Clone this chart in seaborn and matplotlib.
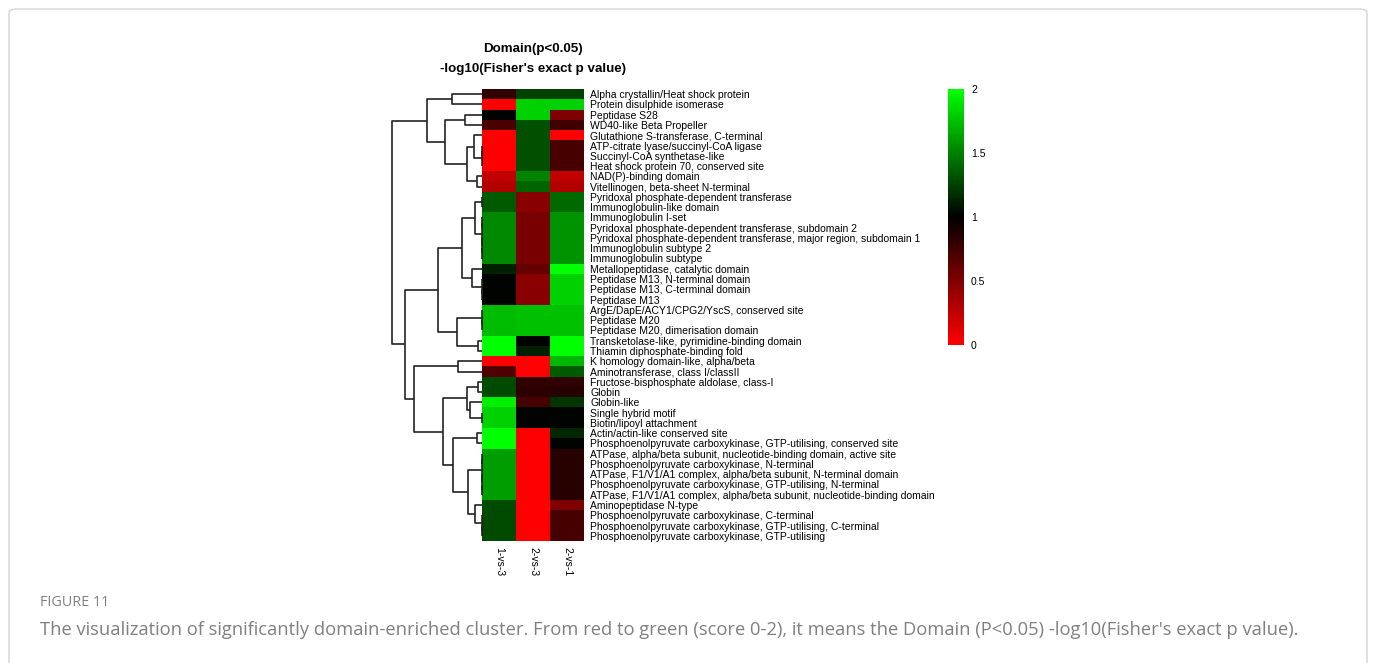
import numpy as np
import pandas as pd
import seaborn as sns
import matplotlib
matplotlib.use("Agg")
import matplotlib.pyplot as plt
from matplotlib.colors import LinearSegmentedColormap
from matplotlib.patches import FancyBboxPatch

# ---------------- data ----------------
columns = ["1-vs-3", "2-vs-3", "2-vs-1"]

domains = [
    "Alpha crystallin/Heat shock protein",
    "Protein disulphide isomerase",
    "Peptidase S28",
    "WD40-like Beta Propeller",
    "Glutathione S-transferase, C-terminal",
    "ATP-citrate lyase/succinyl-CoA ligase",
    "Succinyl-CoA synthetase-like",
    "Heat shock protein 70, conserved site",
    "NAD(P)-binding domain",
    "Vitellinogen, beta-sheet N-terminal",
    "Pyridoxal phosphate-dependent transferase",
    "Immunoglobulin-like domain",
    "Immunoglobulin I-set",
    "Pyridoxal phosphate-dependent transferase, subdomain 2",
    "Pyridoxal phosphate-dependent transferase, major region, subdomain 1",
    "Immunoglobulin subtype 2",
    "Immunoglobulin subtype",
    "Metallopeptidase, catalytic domain",
    "Peptidase M13, N-terminal domain",
    "Peptidase M13, C-terminal domain",
    "Peptidase M13",
    "ArgE/DapE/ACY1/CPG2/YscS, conserved site",
    "Peptidase M20",
    "Peptidase M20, dimerisation domain",
    "Transketolase-like, pyrimidine-binding domain",
    "Thiamin diphosphate-binding fold",
    "K homology domain-like, alpha/beta",
    "Aminotransferase, class I/classII",
    "Fructose-bisphosphate aldolase, class-I",
    "Globin",
    "Globin-like",
    "Single hybrid motif",
    "Biotin/lipoyl attachment",
    "Actin/actin-like conserved site",
    "Phosphoenolpyruvate carboxykinase, GTP-utilising, conserved site",
    "ATPase, alpha/beta subunit, nucleotide-binding domain, active site",
    "Phosphoenolpyruvate carboxykinase, N-terminal",
    "ATPase, F1/V1/A1 complex, alpha/beta subunit, N-terminal domain",
    "Phosphoenolpyruvate carboxykinase, GTP-utilising, N-terminal",
    "ATPase, F1/V1/A1 complex, alpha/beta subunit, nucleotide-binding domain",
    "Aminopeptidase N-type",
    "Phosphoenolpyruvate carboxykinase, C-terminal",
    "Phosphoenolpyruvate carboxykinase, GTP-utilising, C-terminal",
    "Phosphoenolpyruvate carboxykinase, GTP-utilising",
]

score_1vs3 = [0.80, 0.00, 1.00, 0.70, 0.00, 0.00, 0.00, 0.00, 0.25, 0.30,
              1.35, 1.35, 1.53, 1.53, 1.53, 1.53, 1.53, 1.12, 1.00, 1.00,
              1.00, 1.73, 1.73, 1.73, 2.00, 2.00, 0.00, 0.68, 1.28, 1.28,
              1.93, 1.80, 1.80, 2.00, 2.00, 1.60, 1.60, 1.60, 1.60, 1.60,
              1.28, 1.28, 1.28, 1.28]
score_2vs3 = [1.25, 1.80, 1.80, 1.30, 1.30, 1.30, 1.30, 1.30, 1.50, 1.38,
              0.47, 0.47, 0.53, 0.53, 0.53, 0.53, 0.53, 0.60, 0.47, 0.47,
              0.47, 1.75, 1.75, 1.75, 1.00, 1.12, 0.00, 0.00, 0.80, 0.82,
              0.72, 1.00, 1.00, 0.00, 0.00, 0.00, 0.00, 0.00, 0.00, 0.00,
              0.00, 0.00, 0.00, 0.00]
score_2vs1 = [1.25, 1.80, 0.50, 0.75, 0.00, 0.72, 0.72, 0.72, 0.25, 0.30,
              1.40, 1.40, 1.56, 1.56, 1.56, 1.56, 1.56, 2.00, 1.80, 1.80,
              1.80, 1.75, 1.75, 1.75, 2.00, 2.00, 1.70, 1.35, 0.80, 0.85,
              1.20, 1.00, 1.00, 1.15, 1.00, 0.85, 0.85, 0.85, 0.85, 0.85,
              0.50, 0.72, 0.72, 0.72]

# row dendrogram: (merge height, left, right); leaves are 1-based row numbers
def N(h, a, b):
    return (h, a, b)

row_tree = N(90,
    N(55, N(30, 1, 2),
          N(37, N(17, 3, 4),
                N(15, N(8, 5, N(0, N(0, 6, 7), 8)), N(5, 9, 10)))),
    N(77,
      N(44,
        N(20, N(7, N(0, 11, 12), N(0, N(0, 13, 14), N(0, 15, N(0, 16, 17)))),
              N(10, 18, N(0, 19, N(0, 20, 21)))),
        N(25, N(0, 22, N(0, 23, 24)), N(4, 25, 26))),
      N(68, N(24, 27, 28),
            N(39, N(15, N(4, 29, 30), N(12, 31, N(0, 32, 33))),
                  N(29, N(5, 34, 35),
                        N(14, N(0, N(0, 36, 37), N(0, 38, N(0, 39, 40))),
                              N(7, 41, N(0, 42, N(0, 43, 44)))))))))

cbar_ticks = [0, 0.5, 1, 1.5, 2]
cbar_ticklabels = ["0", "0.5", "1", "1.5", "2"]

title_lines = ["Domain(p<0.05)", "-log10(Fisher's exact p value)"]
fig_label = "FIGURE 11"
caption = ("The visualization of significantly domain-enriched cluster. From red to green "
           "(score 0-2), it means the Domain (P<0.05) -log10(Fisher's exact p value).")

df = pd.DataFrame({columns[0]: score_1vs3, columns[1]: score_2vs3,
                   columns[2]: score_2vs1}, index=domains)

# ---------------- figure ----------------
sns.set_theme(style="white")
plt.rcParams["font.family"] = ["Liberation Sans", "DejaVu Sans"]

W, H = 1375, 663
fig = plt.figure(figsize=(W / 100, H / 100), dpi=100)
fig.patch.set_facecolor("white")

def fx(x):
    return x / W

def fy(y):
    return 1 - y / H

# outer frame
frame = FancyBboxPatch((fx(9), fy(700)), fx(1358), (700 - 9) / H,
                       boxstyle="round,pad=0,rounding_size=0.006",
                       transform=fig.transFigure, facecolor="none",
                       edgecolor="#d4d4d4", linewidth=1.0)
fig.patches.append(frame)

hm_l, hm_r, hm_t, hm_b = 482, 584, 89, 541
ax = fig.add_axes([fx(hm_l), fy(hm_b), fx(hm_r - hm_l), (hm_b - hm_t) / H])
cax = fig.add_axes([fx(948), fy(345), fx(16), (345 - 89) / H])

cmap = LinearSegmentedColormap.from_list("rbg", ["#FF0000", "#000000", "#00FF00"], N=100)
sns.heatmap(df, ax=ax, cmap=cmap, vmin=0, vmax=2, cbar_ax=cax,
            xticklabels=True, yticklabels=True, linewidths=0)

ax.yaxis.tick_right()
ax.tick_params(axis="y", length=0, pad=4.5, labelsize=7.5, rotation=0)
ax.tick_params(axis="x", length=0, pad=4, labelsize=7.5)
for t in ax.get_yticklabels():
    t.set_rotation(0)
    t.set_ha("left")
    t.set_color("black")
for t in ax.get_xticklabels():
    t.set_rotation(270)
    t.set_va("top")
    t.set_color("black")
ax.set_xlabel("")
ax.set_ylabel("")

cax.set_yticks(cbar_ticks)
cax.set_yticklabels(cbar_ticklabels)
cax.tick_params(length=0, pad=5, labelsize=7.5, colors="black")
for s in cax.spines.values():
    s.set_visible(False)

# ---------------- dendrogram ----------------
dax = fig.add_axes([fx(392), fy(hm_b), fx(hm_l - 392), (hm_b - hm_t) / H])
n_rows = len(domains)
root_h = row_tree[0]
dax.set_xlim(root_h, 0)
dax.set_ylim(n_rows, 0)
dax.axis("off")

def draw(node):
    if not isinstance(node, tuple):
        return node - 0.5, 0.0
    h, a, b = node
    ya, ha = draw(a)
    yb, hb = draw(b)
    kw = dict(color="#222222", lw=1.2, solid_capstyle="butt", clip_on=False)
    dax.plot([ha, h, h, hb], [ya, ya, yb, yb], **kw)
    return (ya + yb) / 2, h

draw(row_tree)

# ---------------- titles & caption ----------------
fig.text(fx(533), fy(49), title_lines[0], ha="center", va="center",
         fontsize=9.6, fontweight="bold", color="black")
fig.text(fx(533), fy(69), title_lines[1], ha="center", va="center",
         fontsize=9.6, fontweight="bold", color="black")

fig.text(fx(40), fy(603), fig_label, ha="left", va="center",
         fontsize=10.4, color="#808080", family=["Open Sans", "DejaVu Sans"])
fig.text(fx(40), fy(630), caption, ha="left", va="center",
         fontsize=13.2, color="#808080", family=["Open Sans", "DejaVu Sans"])

fig.savefig("out.png", dpi=100, facecolor="white")
